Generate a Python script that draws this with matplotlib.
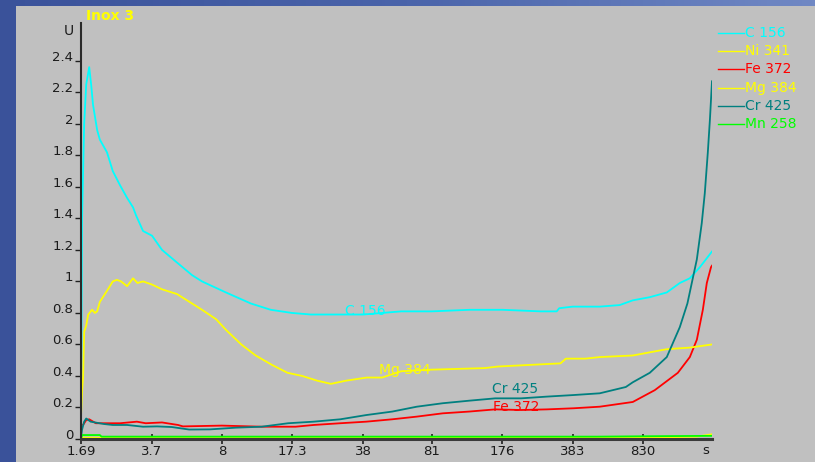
import numpy as np
import matplotlib
matplotlib.use('Agg')
import matplotlib.pyplot as plt
from matplotlib.lines import Line2D
from matplotlib.patches import Rectangle
from matplotlib.colors import LinearSegmentedColormap
from matplotlib.ticker import FixedLocator, FixedFormatter, NullLocator

# time axis ticks (log scale, seconds)
x_ticks = [1.69, 3.7, 8, 17.3, 38, 81, 176, 383, 830]
x_tick_labels = ['1.69', '3.7', '8', '17.3', '38', '81', '176', '383', '830']
y_ticks = [0, 0.2, 0.4, 0.6, 0.8, 1, 1.2, 1.4, 1.6, 1.8, 2, 2.2, 2.4]
y_tick_labels = ['0', '0.2', '0.4', '0.6', '0.8', '1', '1.2', '1.4', '1.6', '1.8', '2', '2.2', '2.4']

# C 156
t_c = [1.69, 1.71, 1.75, 1.79, 1.85, 1.89, 1.93, 2.02, 2.08, 2.25, 2.40, 2.60, 2.81, 3.0, 3.1,
       3.35, 3.7, 4.13, 4.87, 5.75, 6.42, 8.36, 11.0, 13.7, 17.3, 21.3, 26.6, 38, 57.8, 81,
       123, 176, 268, 321, 330, 383, 516, 643, 743, 896, 1081, 1248, 1394, 1556, 1780]
c_156 = [0.05, 1.40, 2.0, 2.25, 2.36, 2.25, 2.12, 1.96, 1.90, 1.82, 1.70, 1.61, 1.53, 1.47, 1.42,
         1.32, 1.29, 1.20, 1.12, 1.04, 1.00, 0.93, 0.86, 0.82, 0.80, 0.79, 0.79, 0.79, 0.81, 0.81,
         0.82, 0.82, 0.81, 0.81, 0.83, 0.84, 0.84, 0.85, 0.88, 0.90, 0.93, 0.99, 1.02, 1.09, 1.19]

# Ni 341
t_ni = [1.69, 100, 1000, 1500, 1780]
ni_341 = [0.008, 0.008, 0.010, 0.015, 0.03]

# Fe 372
t_fe = [1.73, 1.79, 1.85, 1.99, 2.32, 2.6, 3.13, 3.45, 4.13, 4.93, 5.2, 8.0, 12.4, 18.0, 22.0,
        29.5, 39.3, 52.3, 68.6, 91.4, 122, 163, 217, 288, 387, 516, 743, 947, 1221, 1394,
        1506, 1609, 1681, 1760, 1780]
fe_372 = [0.09, 0.12, 0.125, 0.10, 0.10, 0.10, 0.11, 0.10, 0.105, 0.089, 0.08, 0.085, 0.078, 0.078, 0.089,
          0.10, 0.11, 0.125, 0.142, 0.163, 0.174, 0.188, 0.184, 0.188, 0.195, 0.205, 0.235, 0.31, 0.42, 0.52,
          0.63, 0.82, 0.99, 1.09, 1.10]

# Mg 384
t_mg = [1.69, 1.71, 1.73, 1.75, 1.79, 1.83, 1.91, 1.97, 2.02, 2.08, 2.25, 2.40, 2.51, 2.63, 2.81,
        3.0, 3.15, 3.35, 3.7, 4.13, 4.87, 5.75, 6.42, 7.5, 8.4, 9.9, 11.6, 13.9, 16.5, 19.4,
        22.9, 26.6, 31.4, 39.5, 46.8, 57.8, 80, 145, 168, 335, 355, 440, 516, 743, 1081,
        1394, 1780]
mg_384 = [0.14, 0.30, 0.40, 0.68, 0.72, 0.79, 0.82, 0.80, 0.81, 0.87, 0.94, 1.00, 1.01, 1.00, 0.97,
          1.02, 0.99, 1.00, 0.98, 0.95, 0.92, 0.86, 0.82, 0.76, 0.69, 0.60, 0.53, 0.47, 0.42, 0.40,
          0.37, 0.35, 0.37, 0.39, 0.39, 0.43, 0.44, 0.45, 0.46, 0.48, 0.51, 0.51, 0.52, 0.53, 0.57,
          0.58, 0.60]

# Cr 425
t_cr = [1.69, 1.71, 1.75, 1.79, 1.88, 2.18, 2.40, 2.81, 3.35, 3.91, 4.6, 5.57, 7.01, 9.34, 12.4,
        16.6, 22.0, 29.5, 39.3, 52.3, 68.6, 91.4, 122, 163, 217, 288, 387, 516, 688, 743,
        896, 1081, 1248, 1357, 1506, 1590, 1644, 1700, 1740, 1780]
cr_425 = [0.01, 0.06, 0.11, 0.13, 0.11, 0.095, 0.089, 0.089, 0.078, 0.08, 0.076, 0.06, 0.061, 0.072, 0.078,
          0.10, 0.11, 0.125, 0.152, 0.174, 0.205, 0.227, 0.243, 0.258, 0.258, 0.269, 0.279, 0.29, 0.33, 0.36,
          0.42, 0.52, 0.71, 0.86, 1.14, 1.37, 1.56, 1.82, 2.03, 2.27]

# Mn 258
t_mn = [1.69, 1.71, 2.08, 2.12, 500, 1000, 1780]
mn_258 = [0.0, 0.025, 0.025, 0.015, 0.015, 0.018, 0.02]

names = ['C 156', 'Ni 341', 'Fe 372', 'Mg 384', 'Cr 425', 'Mn 258']
colors = ['#00ffff', '#ffff00', '#ff0000', '#ffff00', '#008080', '#00ff00']
series = [(t_c, c_156), (t_ni, ni_341), (t_fe, fe_372), (t_mg, mg_384), (t_cr, cr_425), (t_mn, mn_258)]

# inline curve labels (time, value)
inline = {'C 156': (38.8, 0.81), 'Mg 384': (60, 0.44), 'Cr 425': (203, 0.32), 'Fe 372': (205, 0.20)}

W, H = 815, 462
fig = plt.figure(figsize=(W / 100, H / 100), dpi=100)

# blue backdrop + gray panel
bg = fig.add_axes([0, 0, 1, 1], zorder=-10)
bg.axis('off')
cmap = LinearSegmentedColormap.from_list('bg', ['#3a529a', '#4a64aa', '#7088c4'])
grad = np.linspace(0, 1, 256)[None, :]
bg.imshow(grad, cmap=cmap, aspect='auto', extent=[0, 1, 0, 1])
fig.patches.append(Rectangle((16 / W, 0), 1, 1 - 6 / H, transform=fig.transFigure,
                             facecolor='#c0c0c0', edgecolor='none', zorder=-5))

ax = fig.add_axes([81 / W, 1 - 439 / H, (712 - 81) / W, (439 - 23) / H])
ax.patch.set_alpha(0)

for (t, v), col in zip(series, colors):
    ax.plot(t, v, color=col, lw=1.3)

for name, col in zip(names, colors):
    if name in inline:
        tx, ty = inline[name]
        ax.text(tx, ty, name, color=col, fontsize=10, ha='center', va='center')

ax.set_xscale('log')
ax.set_xlim(1.69, 1780)
ax.set_ylim(0, 2.64)
ax.xaxis.set_major_locator(FixedLocator(x_ticks))
ax.xaxis.set_major_formatter(FixedFormatter(x_tick_labels))
ax.xaxis.set_minor_locator(NullLocator())
ax.set_yticks(y_ticks, y_tick_labels)

for side in ['top', 'right']:
    ax.spines[side].set_visible(False)
ax.spines['left'].set_color('#2a2a2a')
ax.spines['left'].set_linewidth(1.5)
ax.spines['bottom'].set_color('#3a3a3a')
ax.spines['bottom'].set_linewidth(2.2)

ax.tick_params(axis='y', direction='out', length=4, width=1, pad=1.5,
               labelsize=9.5, color='#202020', labelcolor='#1a1a1a')
ax.tick_params(axis='x', direction='inout', length=7, width=1.2, pad=1,
               labelsize=9.5, color='#202020', labelcolor='#1a1a1a')
for lbl in ax.get_yticklabels():
    lbl.set_va('baseline')

fig.text(86 / W, 1 - 16 / H, 'Inox 3', color='#ffff00', fontsize=10, fontweight='bold',
         ha='left', va='center')
fig.text(69 / W, 1 - 31 / H, 'U', color='#1a1a1a', fontsize=10, ha='center', va='center')
fig.text(706 / W, 1 - 450 / H, 's', color='#1a1a1a', fontsize=9.5, ha='center', va='center')

# legend at top right
for i, (name, col) in enumerate(zip(names, colors)):
    yy = 1 - (33 + 18.2 * i) / H
    fig.add_artist(Line2D([718 / W, 744 / W], [yy, yy], color=col, lw=1))
    fig.text(745 / W, yy, name, color=col, fontsize=10, ha='left', va='center')

fig.savefig('out.png', dpi=100)
